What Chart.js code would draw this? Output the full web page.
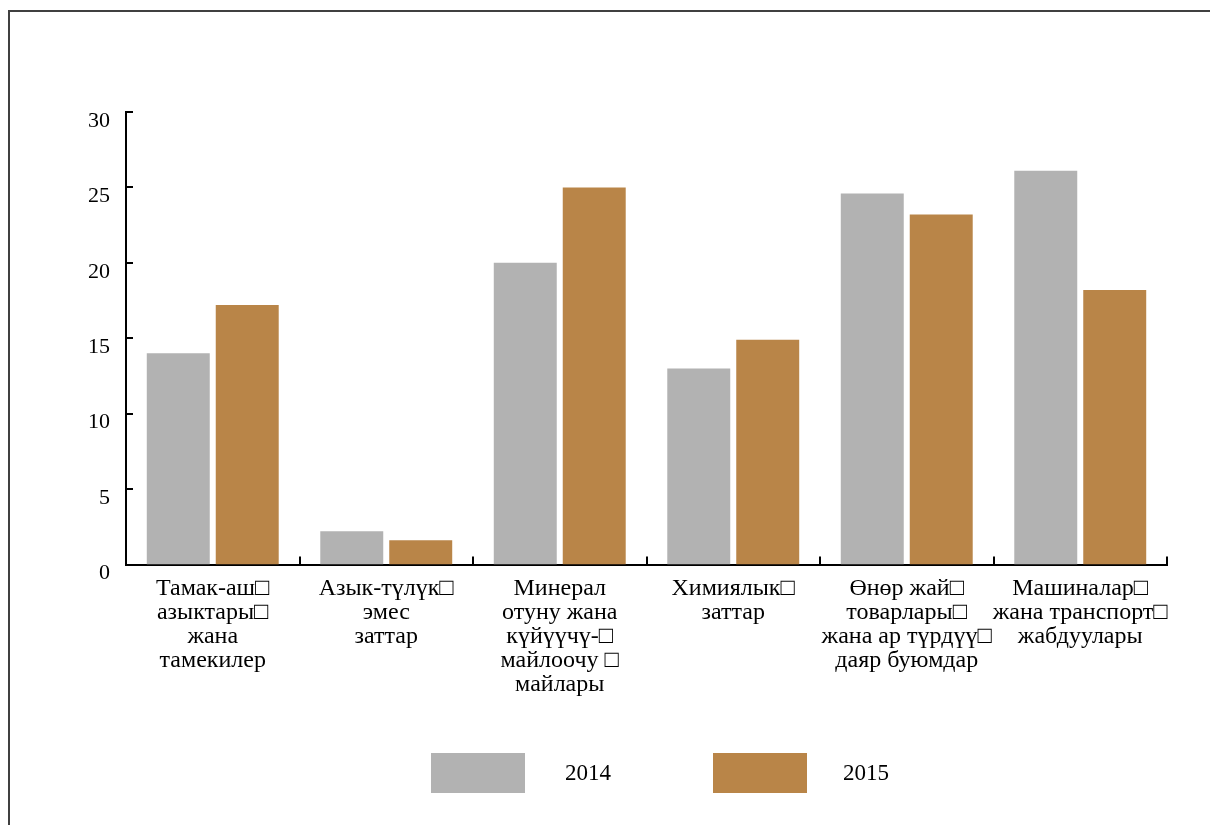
<!DOCTYPE html>
<html>
<head>
<meta charset="utf-8">
<script src="https://cdn.jsdelivr.net/npm/chart.js@4/dist/chart.umd.min.js"></script>
<style>
  html, body { margin: 0; padding: 0; background: #fff; }
  #wrap { position: relative; width: 1210px; height: 825px; }
  canvas { position: absolute; left: 0; top: 0; }
  .lg-box { position: absolute; width: 94px; height: 40px; }
  .lg-txt { position: absolute; font: 23px "Liberation Serif", "Times New Roman", serif; color: #000; line-height: 40px; }
</style>
</head>
<body>
<div id="wrap">
  <canvas id="c" width="1210" height="825"></canvas>
  <div id="legend"></div>
</div>
<script>
const categories = [
  ["Тамак-аш□", "азыктары□", "жана", "тамекилер"],
  ["Азык-түлүк□", "эмес", "заттар"],
  ["Минерал", "отуну жана", "күйүүчү-□", "майлоочу □", "майлары"],
  ["Химиялык□", "заттар"],
  ["Өнөр жай□", "товарлары□", "жана ар түрдүү□", "даяр буюмдар"],
  ["Машиналар□", "жана транспорт□", "жабдуулары"]
];
const seriesNames = ["2014", "2015"];
const values2014 = [14.0, 2.2, 20.0, 13.0, 24.6, 26.1];
const values2015 = [17.2, 1.6, 25.0, 14.9, 23.2, 18.2];
const yTicks = [0, 5, 10, 15, 20, 25, 30];
const colors = ["#B2B2B2", "#B98548"];

const FONT = '"Liberation Serif", "Times New Roman", serif';

const decor = {
  id: 'decor',
  beforeDraw(chart) {
    const ctx = chart.ctx;
    ctx.save();
    ctx.strokeStyle = '#404040';
    ctx.lineWidth = 2;
    ctx.beginPath();
    ctx.moveTo(9, 825);
    ctx.lineTo(9, 11);
    ctx.lineTo(1210, 11);
    ctx.stroke();
    ctx.restore();
  },
  afterDraw(chart) {
    const ctx = chart.ctx;
    const x = chart.scales.x, y = chart.scales.y;
    const area = chart.chartArea;
    ctx.save();
    ctx.strokeStyle = '#000';
    ctx.lineWidth = 2;
    ctx.beginPath();
    yTicks.forEach(v => {
      const py = Math.round(y.getPixelForValue(v));
      ctx.moveTo(area.left, py);
      ctx.lineTo(area.left + 7, py);
    });
    const n = categories.length;
    const bounds = [area.left];
    for (let i = 0; i < n - 1; i++) {
      bounds.push((x.getPixelForValue(i) + x.getPixelForValue(i + 1)) / 2);
    }
    bounds.push(area.right);
    bounds.forEach(bx => {
      const px = Math.round(bx);
      ctx.moveTo(px, area.bottom);
      ctx.lineTo(px, area.bottom - 8);
    });
    ctx.stroke();
    ctx.restore();
  }
};

new Chart(document.getElementById('c'), {
  type: 'bar',
  data: {
    labels: categories,
    datasets: [
      { label: seriesNames[0], data: values2014, backgroundColor: colors[0], categoryPercentage: 0.795, barPercentage: 0.913 },
      { label: seriesNames[1], data: values2015, backgroundColor: colors[1], categoryPercentage: 0.795, barPercentage: 0.913 }
    ]
  },
  options: {
    responsive: false,
    animation: false,
    devicePixelRatio: 1,
    layout: { padding: { left: 0, top: 112, right: 43, bottom: 80 } },
    plugins: { legend: { display: false }, tooltip: { enabled: false } },
    scales: {
      x: {
        grid: { display: false, drawTicks: false },
        border: { display: true, color: '#000', width: 2 },
        afterFit(s) { s.height = 180.5; },
        ticks: {
          autoSkip: false, maxRotation: 0, minRotation: 0,
          padding: 12, color: '#000',
          font: { family: FONT, size: 24, lineHeight: '24px' }
        }
      },
      y: {
        min: 0, max: 30,
        afterFit(s) { s.width = 126; },
        afterBuildTicks(s) { s.ticks = yTicks.map(v => ({ value: v })); },
        grid: { display: false, drawTicks: false },
        border: { display: true, color: '#000', width: 2 },
        ticks: {
          padding: 16, labelOffset: 9, color: '#000',
          font: { family: FONT, size: 22 }
        }
      }
    }
  },
  plugins: [decor]
});

const legend = document.getElementById('legend');
const lgPos = [{ box: 431, txt: 565 }, { box: 713, txt: 843 }];
seriesNames.forEach((name, i) => {
  const b = document.createElement('div');
  b.className = 'lg-box';
  b.style.left = lgPos[i].box + 'px';
  b.style.top = '753px';
  b.style.background = colors[i];
  legend.appendChild(b);
  const t = document.createElement('div');
  t.className = 'lg-txt';
  t.style.left = lgPos[i].txt + 'px';
  t.style.top = '753px';
  t.textContent = name;
  legend.appendChild(t);
});
</script>
</body>
</html>
